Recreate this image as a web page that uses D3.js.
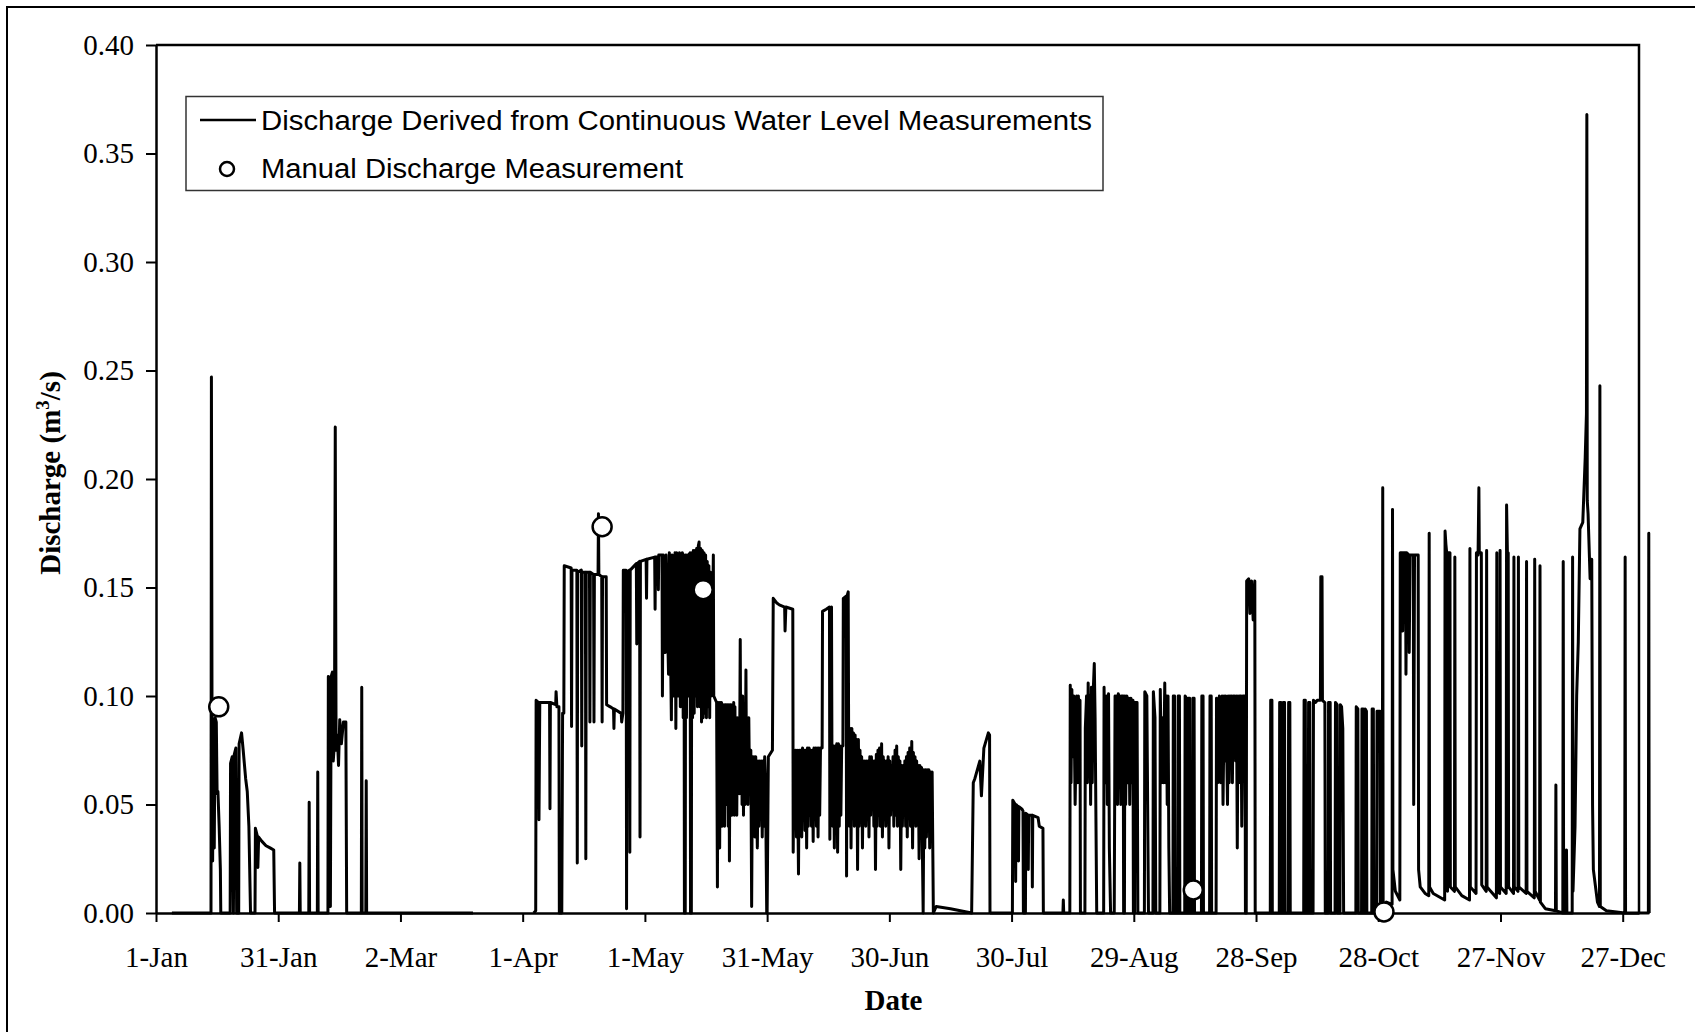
<!DOCTYPE html>
<html>
<head>
<meta charset="utf-8">
<script src="https://cdn.jsdelivr.net/npm/d3@7"></script>
<style>
  body { margin: 0; background: #fff; }
  svg { display: block; }
</style>
</head>
<body>
<div id="chart"></div>
<script>
// days are counted from 1-Jan (day 0)
var xTickDays = [0, 30, 60, 90, 120, 150, 180, 210, 240, 270, 300, 330, 360];
var xTickLabels = ["1-Jan", "31-Jan", "2-Mar", "1-Apr", "1-May", "31-May", "30-Jun",
                   "30-Jul", "29-Aug", "28-Sep", "28-Oct", "27-Nov", "27-Dec"];
var yTickValues = [0, 0.05, 0.10, 0.15, 0.20, 0.25, 0.30, 0.35, 0.40];

// continuous record, [day, discharge m3/s]
var flowJanFeb = [
  [3.9,0],[13.5,0],[13.6,0.247],[13.75,0.09],[13.9,0.024],[14.1,0.089],[14.3,0.03],[14.5,0.09],
  [14.8,0.088],[15.0,0.055],[15.2,0.056],[15.5,0.04],[15.8,0.02],[15.9,0],
  [18.2,0],[18.3,0.069],[18.7,0.072],[19.0,0],[19.2,0.073],[19.6,0.076],[19.8,0],[20.3,0],
  [20.4,0.078],[21.0,0.083],[21.4,0.075],[22.0,0.062],[22.4,0.056],[22.8,0.04],[23.2,0],
  [24.3,0],[24.4,0.039],[24.8,0.036],[25.0,0.021],[25.2,0.035],[26.0,0.033],[27.0,0.031],
  [28.0,0.03],[28.9,0.029],[29.1,0],
  [35.2,0],[35.3,0.023],[35.4,0],[37.5,0],[37.6,0.051],[37.7,0],[39.6,0],[39.7,0.065],[39.8,0],
  [42.2,0],[42.3,0.109],[42.6,0.1],[42.8,0.003],[43.0,0.109],[43.3,0.111],[43.5,0.07],[43.8,0.078],
  [44.0,0.224],[44.2,0.075],[44.5,0.082],[44.8,0.068],[45.1,0.089],[45.5,0.078],[46.0,0.088],
  [46.6,0.088],[46.8,0],
  [50.4,0],[50.5,0.104],[50.6,0],[51.5,0],[51.6,0.061],[51.7,0],[77.8,0]
];

var flowAprJul = [
  [92.7,0],[93.2,0.001],[93.3,0.098],[93.9,0.097],[94.0,0.043],[94.2,0.097],[96.6,0.097],[96.7,0.048],
  [96.8,0.097],[98.1,0.096],[98.2,0.102],[98.4,0.095],[98.9,0.095],[99.0,0],[99.6,0],[99.8,0.092],
  [100.1,0.092],[100.2,0.16],[101.9,0.159],[102.0,0.086],[102.1,0.158],[103.3,0.158],[103.4,0.023],
  [103.5,0.157],[104.4,0.158],[104.5,0.077],[104.6,0.157],[105.4,0.157],[105.5,0.025],[105.6,0.157],
  [106.4,0.157],[106.5,0.088],[106.6,0.157],[107.4,0.156],[107.5,0.088],[107.6,0.156],[108.5,0.156],
  [108.6,0.184],[108.7,0.156],[109.4,0.155],[109.5,0.088],[109.6,0.155],[110.5,0.155],[110.6,0.096],
  [111.5,0.095],[112.3,0.094],[112.4,0.085],[112.5,0.094],[114.2,0.092],[114.3,0.088],[114.6,0.092],
  [114.7,0.158],[115.4,0.158],[115.5,0.002],[115.6,0.157],[116.2,0.158],[116.3,0.028],[116.4,0.158],
  [117.9,0.161],[118.0,0.124],[118.1,0.161],[118.7,0.162],[118.8,0.035],[118.9,0.162],[120.3,0.163],
  [120.4,0.145],[120.5,0.163],[122.4,0.164],[122.5,0.14],[122.6,0.164],[123.2,0.164],[123.3,0.149],
  [123.4,0.165],[124.2,0.165],[124.3,0.1],[124.5,0.165],[125.0,0.12],[125.2,0.165],[125.8,0.11],
  [126.0,0.166],[126.5,0.089],[126.7,0.165],[127.0,0.1],[127.2,0.13],[127.4,0.166],[127.6,0.085],
  [127.8,0.166],[128.0,0.1],[128.3,0.1],[128.5,0.166],[128.7,0.095],[129.0,0.12],[129.2,0.166],
  [129.4,0.09],[129.6,0.165],[129.7,0],[129.9,0],[130.0,0.165],[130.2,0.09],[130.4,0.165],
  [130.6,0.1],[130.8,0.165],[131.1,0.166],[131.2,0],[131.4,0],[131.5,0.166],[131.7,0.09],
  [131.9,0.167],[132.1,0.092],[132.3,0.167],[132.5,0.1],[132.7,0.168],[132.9,0.095],[133.1,0.169],
  [133.3,0.171],[133.5,0.095],[133.7,0.168],[133.9,0.088],[134.1,0.167],[134.3,0.09],[134.5,0.166],
  [134.7,0.092],[134.9,0.165],[135.1,0.09],[135.3,0.162],[135.5,0.095],[135.7,0.16],[135.9,0.09],
  [136.1,0.157],[136.3,0.1],[136.5,0.155],[136.7,0.15],[136.8,0.165],[136.9,0.1],[137.6,0.097],
  [137.8,0.012],[137.9,0.097],[138.05,0.04],[138.2,0.097],[138.35,0.03],[138.5,0.097],[138.65,0.05],
  [138.8,0.097],[138.95,0.04],[139.1,0.096],[139.25,0.045],[139.4,0.096],[139.55,0.04],[139.7,0.096],
  [139.85,0.05],[140.0,0.096],[140.15,0.055],[140.3,0.096],[140.45,0.04],[140.6,0.096],[140.75,0.024],
  [140.9,0.096],[141.05,0.05],[141.2,0.096],[141.35,0.045],[141.5,0.096],[141.65,0.05],[141.8,0.097],
  [141.95,0.045],[142.1,0.095],[142.25,0.05],[142.4,0.09],[142.55,0.045],[142.7,0.09],[142.85,0.06],
  [143.0,0.09],[143.2,0.055],[143.4,0.126],[143.55,0.06],[143.7,0.1],[143.85,0.05],[144.0,0.1],
  [144.2,0.045],[144.4,0.09],[144.6,0.05],[144.8,0.112],[144.95,0.06],[145.1,0.09],[145.3,0.05],
  [145.5,0.09],[145.7,0.055],[146.0,0.075],[146.2,0.003],[146.4,0.072],[146.6,0.04],[146.8,0.072],
  [147.0,0.035],[147.2,0.072],[147.4,0.05],[147.6,0.03],[147.8,0.07],[148.0,0.04],[148.2,0.07],
  [148.4,0.05],[148.6,0.07],[148.8,0.035],[149.0,0.07],[149.2,0.04],[149.4,0.072],[149.6,0.06],
  [149.9,0],[150.0,0],[150.3,0.072],[151.3,0.075],[151.5,0.145],[152.3,0.143],[153.0,0.142],
  [154.3,0.141],[154.4,0.13],[154.6,0.141],[156.3,0.14],[156.4,0.028],
  [156.6,0.074],[156.8,0.04],[157.0,0.075],[157.2,0.035],[157.4,0.075],[157.7,0.018],[157.9,0.075],
  [158.1,0.04],[158.3,0.075],[158.5,0.035],[158.7,0.076],[158.9,0.045],[159.1,0.075],[159.3,0.038],
  [159.5,0.075],[159.7,0.03],[159.9,0.076],[160.1,0.04],[160.3,0.076],[160.5,0.045],[160.7,0.075],
  [160.9,0.04],[161.1,0.075],[161.3,0.033],[161.5,0.076],[161.7,0.045],[161.9,0.076],[162.1,0.04],
  [162.3,0.076],[162.5,0.035],[162.7,0.076],[162.9,0.045],[163.1,0.076],[163.5,0.076],[163.6,0.139],
  [164.5,0.14],[165.3,0.141],[165.4,0.034],[165.5,0.14],[165.8,0.141],[165.9,0.078],[166.1,0.04],
  [166.3,0.077],[166.5,0.03],[166.7,0.077],[166.9,0.04],[167.1,0.078],[167.3,0.028],[167.5,0.078],
  [167.7,0.04],[167.9,0.077],[168.1,0.045],[168.3,0.077],[168.6,0.077],[168.7,0.145],
  [169.4,0.146],[169.5,0.017],[169.6,0.146],[169.9,0.148],[170.0,0.086],[170.2,0.04],[170.4,0.085],
  [170.6,0.03],[170.8,0.085],[171.0,0.045],[171.2,0.083],[171.4,0.04],[171.6,0.082],[171.8,0.05],
  [172.0,0.08],[172.2,0.02],[172.4,0.08],[172.6,0.04],[172.8,0.075],[173.0,0.045],[173.2,0.072],
  [173.4,0.03],[173.6,0.07],[173.8,0.045],[174.0,0.07],[174.2,0.04],[174.4,0.07],[174.6,0.045],
  [174.8,0.07],[175.0,0.035],[175.2,0.072],[175.4,0.045],[175.6,0.072],[175.8,0.05],[176.0,0.07],
  [176.2,0.04],[176.4,0.07],[176.6,0.02],[176.8,0.073],[177.0,0.04],[177.2,0.075],[177.4,0.045],
  [177.6,0.076],[177.8,0.04],[178.1,0.078],[178.3,0.035],[178.5,0.072],[178.7,0.045],[178.9,0.07],
  [179.1,0.04],[179.3,0.07],[179.5,0.045],[179.7,0.072],[179.9,0.03],[180.1,0.07],[180.3,0.045],
  [180.5,0.068],[180.7,0.05],[180.9,0.072],[181.1,0.04],[181.4,0.075],[181.6,0.045],[181.8,0.077],
  [182.0,0.04],[182.2,0.072],[182.4,0.045],[182.6,0.07],[182.8,0.02],[183.0,0.068],[183.2,0.04],
  [183.4,0.068],[183.6,0.045],[183.8,0.07],[184.0,0.04],[184.2,0.072],[184.4,0.035],[184.6,0.074],
  [184.8,0.045],[185.0,0.076],[185.2,0.04],[185.5,0.079],[185.7,0.03],[185.9,0.074],[186.1,0.045],
  [186.3,0.072],[186.5,0.04],[186.7,0.07],[186.9,0.045],[187.1,0.068],[187.3,0.025],[187.5,0.068],
  [187.7,0.04],[187.9,0.067],[188.1,0.03],[188.3,0],[188.5,0.066],[188.7,0.03],[188.9,0.066],
  [189.1,0.035],[189.3,0.066],[189.5,0.04],[189.7,0.066],[189.9,0.03],[190.1,0.065],[190.3,0.04],
  [190.5,0.065],[190.8,0],[191.5,0.003],[195.0,0.002],[200.2,0],[200.6,0.06],[201.0,0.062],
  [202.2,0.07],[202.6,0.054],[203.2,0.076],[204.3,0.083],[204.6,0.082],[204.7,0]
];

var flowJulOct = [
  [204.7,0],[210.2,0],[210.3,0.052],[210.9,0.05],[211.0,0.0145],[211.1,0.05],[211.6,0.049],[211.7,0.024],
  [211.8,0.049],[212.5,0.048],[212.8,0.047],[212.9,0],[213.4,0],[213.5,0.046],[214.0,0.045],[214.1,0.02],
  [214.2,0.045],[215.0,0.045],[215.1,0.012],[215.2,0.045],[216.5,0.044],[216.8,0.04],[217.7,0.039],
  [217.8,0],[222.6,0],[222.7,0.006],[222.8,0],
  [224.3,0],[224.4,0.105],[224.6,0.06],[224.8,0.103],[225.0,0.072],[225.3,0.1],[225.6,0.05],[226.0,0.1],
  [226.2,0.06],[226.4,0.1],[226.6,0.07],[226.8,0.098],[226.9,0],[228.0,0],[228.1,0.085],[228.4,0.1],
  [228.6,0.06],[228.8,0.106],[229.0,0.07],[229.2,0.1],[229.4,0.05],[229.6,0.104],[229.8,0.06],
  [230.0,0.1],[230.3,0.115],[230.5,0.09],[230.9,0],[232.6,0],[232.7,0.104],[233.0,0.06],[233.3,0.1],
  [233.5,0.05],[233.8,0.101],[234.0,0.03],[234.3,0],[235.2,0],[235.4,0.1],[235.6,0.06],[235.8,0.1],
  [236.0,0.05],[236.2,0.101],[236.4,0.06],[236.6,0.1],[236.8,0.05],[237.0,0.1],[237.4,0.1],[237.5,0],
  [237.7,0],[237.8,0.1],[238.0,0.05],[238.3,0.1],[238.5,0.06],[238.8,0.099],[239.0,0.05],[239.3,0.099],
  [239.5,0.06],[239.8,0.098],[239.9,0],[240.2,0],[240.3,0.097],[240.8,0.097],[241.0,0],
  [242.6,0],[242.7,0.102],[243.2,0.1],[243.4,0.05],[243.6,0],[244.7,0],[244.8,0.102],[245.2,0.09],
  [245.4,0],[246.4,0],[246.5,0.103],[246.8,0.06],[247.0,0.09],[247.3,0.06],[247.6,0.106],[247.8,0.06],
  [248.0,0.1],[248.2,0.05],[248.4,0.1],[248.6,0.03],[248.8,0],[249.6,0],[249.7,0.1],[250.0,0.1],
  [250.1,0],[250.8,0],[250.9,0.1],[251.2,0.1],[251.3,0],[252.5,0],[252.6,0.1],[252.9,0.099],[253.0,0],
  [253.3,0],[253.4,0.099],[253.7,0.099],[253.8,0],[254.4,0],[254.5,0.099],[254.8,0.099],[254.9,0],
  [256.6,0],[256.7,0.1],[257.0,0.1],[257.1,0],[258.6,0],[258.7,0.1],[259.0,0.1],[259.1,0],
  [260.2,0],[260.3,0.099],[260.6,0.06],[261.0,0.1],[261.3,0.06],[261.7,0.1],[261.9,0.05],[262.2,0.1],
  [262.4,0.07],[262.6,0.1],[263.0,0.05],[263.2,0.1],[263.4,0.06],[263.6,0.1],[263.8,0.08],[264.0,0.1],
  [264.2,0.06],[264.4,0.1],[264.6,0.085],[264.8,0.1],[265.0,0.07],[265.2,0.1],[265.4,0.03],[265.6,0.1],
  [265.8,0.06],[266.0,0.1],[266.3,0.1],[266.5,0.04],[266.8,0.1],[267.3,0.1],[267.4,0],[267.6,0],
  [267.7,0.153],[268.2,0.154],[268.5,0.138],[268.9,0.153],[269.3,0.135],[269.7,0.153],[269.8,0],
  [273.5,0],[273.6,0.098],[273.9,0.098],[274.0,0],[275.7,0],[275.8,0.097],[276.1,0.097],[276.2,0],
  [276.6,0],[276.7,0.097],[277.0,0.097],[277.1,0],[277.9,0],[278.0,0.097],[278.3,0.097],[278.4,0],
  [281.7,0],[281.8,0.098],[282.1,0.098],[282.2,0],[282.8,0],[282.9,0.097],[283.2,0.097],[283.3,0],
  [284.0,0],[284.1,0.098],[284.6,0.097],[285.0,0.098],[285.8,0.098],[285.9,0.155],[286.2,0.155],
  [286.3,0.098],[286.9,0.097],[287.0,0],[287.7,0],[287.8,0.097],[288.2,0.097],[288.3,0],[289.4,0],
  [289.5,0.097],[289.9,0.096],[290.0,0],[290.6,0],[290.7,0.096],[291.0,0.095],[291.3,0.085],[291.5,0],
  [294.5,0],[294.6,0.095],[295.0,0.094],[295.1,0],[295.9,0],[296.0,0.094],[296.3,0.094],[296.4,0],
  [296.7,0],[296.8,0.094],[297.1,0.093],[297.2,0],[298.4,0],[298.5,0.094],[298.8,0.094],[298.9,0],
  [299.6,0],[299.7,0.093],[300.0,0.093],[300.4,0.093],[300.5,0],[301.0,0],[301.1,0.196],[301.2,0]
];

var flowNovDec = [
  [301.2,0],[302.0,0.005],[303.4,0.004],[303.5,0.186],[303.6,0.02],[304.2,0.01],[305.3,0.006],
  [305.4,0.166],[305.9,0.166],[306.0,0.13],[306.2,0.166],[306.7,0.166],[306.8,0.11],[307.0,0.166],
  [307.5,0.165],[307.6,0.12],[307.8,0.165],[308.6,0.165],[308.7,0.05],[308.9,0.165],[309.8,0.165],
  [309.9,0.02],[310.3,0.012],[311.5,0.009],[312.4,0.008],[312.5,0.175],[312.6,0.012],[313.5,0.009],
  [316.3,0.006],[316.4,0.176],[316.6,0.17],[316.8,0.166],[317.0,0.01],[317.2,0.166],[317.6,0.166],
  [317.7,0.012],[318.7,0.01],[318.8,0.164],[318.9,0.012],[320.5,0.008],[322.4,0.006],[322.5,0.168],
  [322.6,0.012],[324.0,0.009],[324.1,0.166],[324.5,0.165],[324.7,0.196],[324.8,0.166],[325.3,0.166],
  [325.4,0.013],[326.5,0.01],[326.6,0.167],[326.7,0.012],[329.0,0.007],[329.1,0.166],[329.2,0.01],
  [329.8,0.009],[329.9,0.167],[330.0,0.012],[331.4,0.009],[331.5,0.188],[331.7,0.166],[331.9,0.166],
  [332.0,0.012],[333.2,0.009],[333.3,0.164],[333.4,0.012],[334.3,0.01],[334.4,0.164],[334.5,0.012],
  [336.3,0.009],[336.4,0.162],[336.5,0.01],[338.3,0.007],[338.4,0.163],[338.5,0.01],[339.6,0.006],
  [339.7,0.16],[339.8,0.005],[341.0,0.002],[343.5,0.001],[343.6,0.059],[343.7,0.001],[345.3,0],
  [345.4,0.162],[345.5,0],[346.1,0],[346.2,0.029],[346.3,0],[347.6,0],[347.7,0.164],[347.8,0.01],
  [348.3,0.04],[348.7,0.1],[349.1,0.125],[349.5,0.177],[350.2,0.18],[350.8,0.21],[351.1,0.23],
  [351.2,0.368],[351.3,0.19],[351.5,0.184],[352.0,0.154],[352.4,0.163],[352.6,0.05],[352.8,0.02],
  [353.8,0.005],[354.3,0.003],[354.4,0.243],[354.5,0.003],[356.0,0.001],[360.5,0],[360.6,0.164],
  [360.7,0],[366.3,0],[366.4,0.175],[366.5,0]
];

// manual gaugings
var manualDays = [15.4, 109.5, 134.3, 254.6, 301.4];
var manualFlow = [0.095, 0.178, 0.149, 0.0106, 0.0005];

(function() {
    var width = 1695, height = 1032,
        left = 156, right = 1639, top = 45, bottom = 913;

    var svg = d3.select("#chart").append("svg")
        .attr("width", width)
        .attr("height", height);

    // outer frame, runs off the right and bottom of the picture
    svg.append("rect")
        .attr("x", 7).attr("y", 7)
        .attr("width", 1720).attr("height", 1060)
        .attr("fill", "none").attr("stroke", "#000").attr("stroke-width", 2);

    var x = d3.scaleLinear().domain([0, 364]).range([left, right]);
    var y = d3.scaleLinear().domain([0, 0.4]).range([bottom, top]);

    var line = d3.line()
        .x(function(d) { return x(d[0]); })
        .y(function(d) { return y(d[1]); });

    svg.selectAll("path.flow")
        .data([flowJanFeb, flowAprJul, flowJulOct, flowNovDec])
        .enter().append("path")
        .attr("class", "flow")
        .attr("d", line)
        .attr("fill", "none")
        .attr("stroke", "#000")
        .attr("stroke-width", 3)
        .attr("stroke-linejoin", "round");

    // axes
    var xAxis = d3.axisBottom(x)
        .tickValues(xTickDays)
        .tickFormat(function(d, i) { return xTickLabels[i]; })
        .tickSize(9).tickSizeOuter(0).tickPadding(24);
    var yAxis = d3.axisLeft(y)
        .tickValues(yTickValues)
        .tickFormat(d3.format(".2f"))
        .tickSize(10).tickSizeOuter(0).tickPadding(12);

    var gx = svg.append("g").attr("transform", "translate(0," + bottom + ")").call(xAxis);
    var gy = svg.append("g").attr("transform", "translate(" + left + ",0)").call(yAxis);

    [gx, gy].forEach(function(g) {
        g.selectAll("path.domain").attr("stroke", "#000").attr("stroke-width", 2.5);
        g.selectAll(".tick line").attr("stroke", "#000").attr("stroke-width", 2);
        g.selectAll(".tick text")
            .attr("fill", "#000")
            .style("font-family", "'Liberation Serif', 'Times New Roman', serif")
            .style("font-size", "29px");
    });

    // top and right edges of the plot
    svg.append("path")
        .attr("d", "M" + left + "," + top + "H" + right + "V" + bottom)
        .attr("fill", "none").attr("stroke", "#000").attr("stroke-width", 2.5);

    // manual measurements
    svg.selectAll("circle.manual")
        .data(manualDays)
        .enter().append("circle")
        .attr("class", "manual")
        .attr("cx", function(d) { return x(d); })
        .attr("cy", function(d, i) { return y(manualFlow[i]); })
        .attr("r", 9.5)
        .attr("fill", "#fff")
        .attr("stroke", "#000")
        .attr("stroke-width", 2.5);

    // axis titles
    svg.append("text")
        .attr("x", (left + right) / 2 - 4).attr("y", 1010)
        .attr("text-anchor", "middle")
        .style("font-family", "'Liberation Serif', 'Times New Roman', serif")
        .style("font-size", "29px").style("font-weight", "bold")
        .text("Date");

    var yt = svg.append("text")
        .attr("transform", "translate(60," + ((top + bottom) / 2 - 6) + ") rotate(-90)")
        .attr("text-anchor", "middle")
        .style("font-family", "'Liberation Serif', 'Times New Roman', serif")
        .style("font-size", "29px").style("font-weight", "bold");
    yt.append("tspan").text("Discharge (m");
    yt.append("tspan").attr("dy", -11).style("font-size", "19px").text("3");
    yt.append("tspan").attr("dy", 11).text("/s)");

    // legend
    var lg = svg.append("g");
    lg.append("rect")
        .attr("x", 186).attr("y", 96.5).attr("width", 917).attr("height", 94)
        .attr("fill", "#fff").attr("stroke", "#333").attr("stroke-width", 1.5);
    lg.append("line")
        .attr("x1", 200).attr("x2", 256).attr("y1", 120).attr("y2", 120)
        .attr("stroke", "#000").attr("stroke-width", 2.6);
    lg.append("circle")
        .attr("cx", 227).attr("cy", 169).attr("r", 7)
        .attr("fill", "#fff").attr("stroke", "#000").attr("stroke-width", 2.5);
    var legendText = [
        ["Discharge Derived from Continuous Water Level Measurements", 130, 831],
        ["Manual Discharge Measurement", 178, 422]
    ];
    lg.selectAll("text")
        .data(legendText)
        .enter().append("text")
        .attr("x", 261)
        .attr("y", function(d) { return d[1]; })
        .attr("textLength", function(d) { return d[2]; })
        .attr("lengthAdjust", "spacingAndGlyphs")
        .style("font-family", "'Liberation Sans', Arial, sans-serif")
        .style("font-size", "27px")
        .text(function(d) { return d[0]; });
})();
</script>
</body>
</html>
